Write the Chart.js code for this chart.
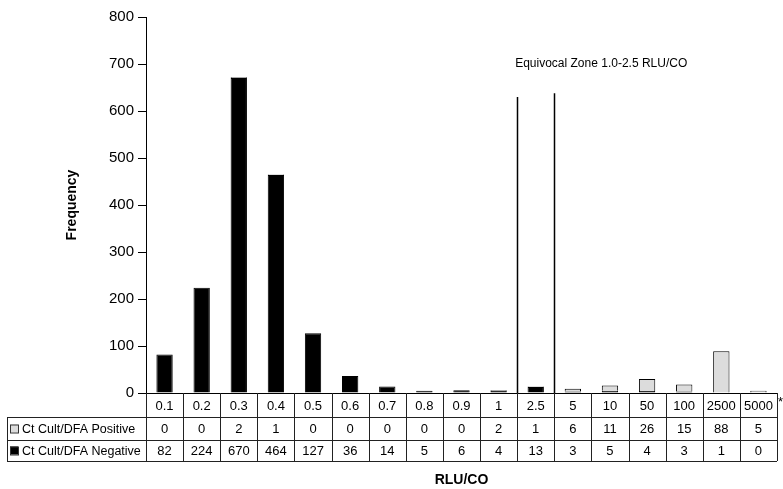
<!DOCTYPE html>
<html>
<head>
<meta charset="utf-8">
<script src="https://cdn.jsdelivr.net/npm/chart.js@4.4.1/dist/chart.umd.min.js"></script>
<style>
  html, body { margin: 0; padding: 0; background: #fff; }
  #wrap { width: 783px; height: 489px; position: relative; }
</style>
</head>
<body>
<div id="wrap"><canvas id="c" width="783" height="489"></canvas></div>
<script>
// ---- data ----
const categories = ['0.1','0.2','0.3','0.4','0.5','0.6','0.7','0.8','0.9','1','2.5','5','10','50','100','2500','5000'];
const positiveCounts = [0,0,2,1,0,0,0,0,0,2,1,6,11,26,15,88,5];
const negativeCounts = [82,224,670,464,127,36,14,5,6,4,13,3,5,4,3,1,0];
const seriesNames = ['Ct Cult/DFA Positive','Ct Cult/DFA Negative'];
const yTickValues = [0,100,200,300,400,500,600,700,800];
const equivocalLabel = 'Equivocal Zone 1.0-2.5 RLU/CO';
const equivocalBoundaries = [10, 11];      // boundaries after category '1' and after '2.5'
const equivocalLineTops = [630, 638];      // line heights in frequency units
const xTitle = 'RLU/CO';
const yTitle = 'Frequency';

const FONT = "'Liberation Sans Narrow','Liberation Sans', Arial, sans-serif";
const posColor = '#dcdcdc';
const negColor = '#000000';

const tablePlugin = {
  id: 'tablePlugin',
  afterDraw(chart) {
    const ctx = chart.ctx;
    const xs = chart.scales.x, ys = chart.scales.y;
    const n = categories.length;
    const L = xs.left, R = xs.right;
    const colW = (R - L) / n;
    const y0 = ys.getPixelForValue(0);
    const r1 = y0 + 24, r2 = r1 + 23, r3 = r2 + 21;
    const legL = 7;

    ctx.save();
    // equivocal lines
    ctx.strokeStyle = '#000';
    ctx.lineWidth = 1.5;
    equivocalBoundaries.forEach((b, i) => {
      const x = Math.round(L + b * colW) + 0.5;
      ctx.beginPath();
      ctx.moveTo(x, ys.getPixelForValue(equivocalLineTops[i]));
      ctx.lineTo(x, y0);
      ctx.stroke();
    });
    ctx.fillStyle = '#000';
    ctx.font = "12px " + FONT;
    ctx.textAlign = 'left';
    ctx.textBaseline = 'middle';
    ctx.fillText(equivocalLabel, L + equivocalBoundaries[0] * colW - 2, ys.getPixelForValue(700));

    // table grid
    ctx.strokeStyle = '#222';
    ctx.lineWidth = 1;
    const hl = (y, x1, x2) => { ctx.beginPath(); ctx.moveTo(x1, Math.round(y) + 0.5); ctx.lineTo(x2, Math.round(y) + 0.5); ctx.stroke(); };
    const vl = (x, y1, y2) => { ctx.beginPath(); ctx.moveTo(Math.round(x) + 0.5, y1); ctx.lineTo(Math.round(x) + 0.5, y2); ctx.stroke(); };
    hl(r1, legL, R); hl(r2, legL, R); hl(r3, legL, R);
    for (let i = 0; i <= n; i++) vl(L + i * colW, y0, r3);
    vl(legL, r1, r3);

    // table text
    ctx.textAlign = 'center';
    ctx.font = "13px " + FONT;
    for (let i = 0; i < n; i++) {
      const cx = L + (i + 0.5) * colW;
      ctx.fillText(categories[i], cx, (y0 + r1) / 2 + 1);
      ctx.fillText(String(positiveCounts[i]), cx, (r1 + r2) / 2 + 1);
      ctx.fillText(String(negativeCounts[i]), cx, (r2 + r3) / 2 + 1);
    }
    ctx.textAlign = 'left';
    ctx.fillText('*', R + 1, y0 + 9);

    // legend inside table
    ctx.font = "12.5px " + FONT;
    const rows = [[seriesNames[0], posColor, (r1 + r2) / 2], [seriesNames[1], negColor, (r2 + r3) / 2]];
    rows.forEach(([name, col, cy]) => {
      ctx.fillStyle = col;
      ctx.fillRect(legL + 3, cy - 4, 8, 8);
      ctx.strokeStyle = '#333';
      ctx.strokeRect(legL + 3.5, cy - 3.5, 8, 8);
      ctx.fillStyle = '#000';
      ctx.fillText(name, legL + 15, cy + 1);
    });

    // x axis title
    ctx.font = "bold 14px " + FONT;
    ctx.textAlign = 'center';
    ctx.fillText(xTitle, (L + R) / 2, r3 + 19);
    ctx.restore();
  }
};

new Chart(document.getElementById('c'), {
  type: 'bar',
  data: {
    labels: categories,
    datasets: [
      { label: seriesNames[1], data: negativeCounts, backgroundColor: negColor, borderColor: '#000', borderWidth: 1, order: 1 },
      { label: seriesNames[0], data: positiveCounts, backgroundColor: posColor, borderColor: '#000', borderWidth: 1, order: 2 }
    ]
  },
  options: {
    responsive: false,
    animation: false,
    devicePixelRatio: 1,
    layout: { padding: { left: 60, right: 6, top: 17, bottom: 0 } },
    plugins: { legend: { display: false }, tooltip: { enabled: false } },
    datasets: { bar: { categoryPercentage: 1.0, barPercentage: 0.44 } },
    scales: {
      x: {
        stacked: true,
        ticks: { display: false },
        grid: { display: false },
        border: { display: true, color: '#000', width: 1 },
        afterFit: s => { s.height = 96; }
      },
      y: {
        stacked: true,
        min: 0, max: 800,
        afterBuildTicks: s => { s.ticks = yTickValues.map(v => ({ value: v })); },
        ticks: { color: '#000', font: { family: FONT, size: 15 }, padding: 4 },
        grid: { drawOnChartArea: false, tickLength: 8, color: '#000' },
        border: { display: true, color: '#000', width: 1 },
        title: { display: true, text: yTitle, color: '#000', font: { family: FONT, size: 14, weight: 'bold' } },
        afterFit: s => { s.width = 86; }
      }
    }
  },
  plugins: [tablePlugin]
});
</script>
</body>
</html>
